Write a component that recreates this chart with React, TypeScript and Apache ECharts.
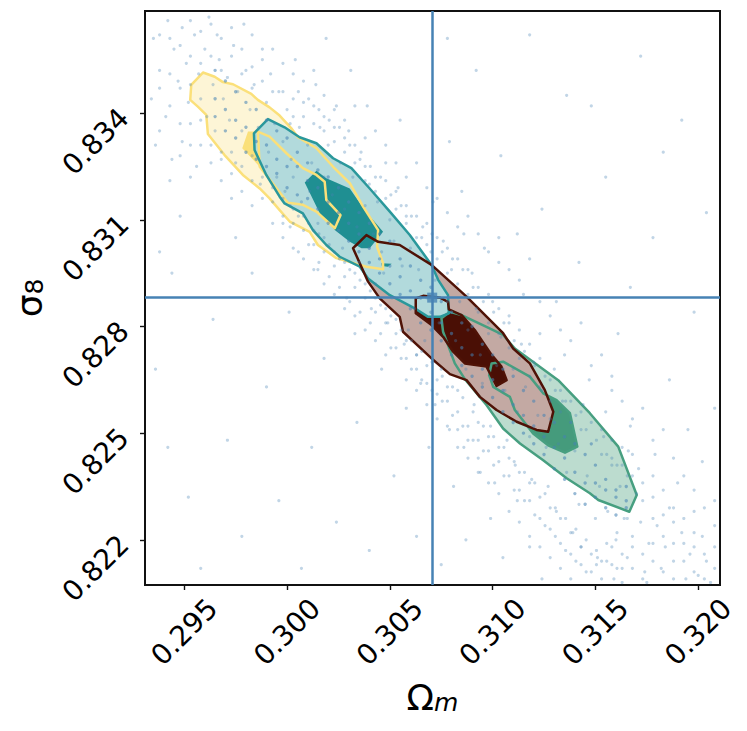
import React, { useEffect, useRef } from "react";
import * as echarts from "echarts";

type P = [number, number];
const omegaTicks = [0.295, 0.3, 0.305, 0.31, 0.315, 0.32];
const sigmaTicks = [0.822, 0.825, 0.828, 0.831, 0.834];
const truth: P = [0.30706, 0.82881];

const yellowOuter: P[] = [[0.29591,0.83514],[0.29648,0.83502],[0.29688,0.83487],[0.29737,0.83481],[0.29826,0.83454],[0.29858,0.83437],[0.29915,0.83416],[0.29964,0.83393],[0.30021,0.83357],[0.30053,0.83332],[0.30143,0.83301],[0.30224,0.83249],[0.30305,0.83203],[0.3037,0.83137],[0.30443,0.83071],[0.30438,0.83024],[0.30467,0.82978],[0.30467,0.82961],[0.30386,0.82968],[0.3024,0.82992],[0.3015,0.83029],[0.3011,0.83066],[0.30013,0.83095],[0.29964,0.83127],[0.29915,0.8316],[0.29867,0.83188],[0.29785,0.83226],[0.29696,0.83282],[0.29615,0.83341],[0.29607,0.83395],[0.29566,0.83418],[0.29529,0.83437],[0.29534,0.83479]];
const yellowInner: P[] = [[0.29858,0.83348],[0.29915,0.83334],[0.29997,0.83287],[0.30077,0.83245],[0.30143,0.83226],[0.30183,0.83207],[0.30191,0.83156],[0.3026,0.83113],[0.30232,0.83076],[0.30143,0.83123],[0.30077,0.83142],[0.30004,0.83148],[0.29867,0.83249],[0.29782,0.83301],[0.2981,0.83348]];
const tealOuter: P[] = [[0.29907,0.83383],[0.29988,0.8336],[0.30061,0.83332],[0.30143,0.83315],[0.30224,0.83273],[0.30313,0.83245],[0.30402,0.83188],[0.305,0.83123],[0.30597,0.83057],[0.30703,0.82973],[0.30735,0.82931],[0.30783,0.82888],[0.30787,0.82837],[0.30743,0.82827],[0.30686,0.82827],[0.30621,0.82851],[0.305,0.82888],[0.30394,0.82935],[0.30354,0.82968],[0.30256,0.82996],[0.30191,0.83029],[0.30126,0.83071],[0.30077,0.83118],[0.29988,0.83146],[0.29964,0.83165],[0.29899,0.83226],[0.29842,0.83296],[0.29839,0.83343]];
const tealInner: P[] = [[0.30143,0.83238],[0.30191,0.83217],[0.30305,0.83188],[0.30378,0.83127],[0.30467,0.83066],[0.30402,0.8302],[0.30362,0.8302],[0.30305,0.83038],[0.30232,0.83071],[0.30159,0.83118],[0.30086,0.83205]];
const tealSpeck: P[] = [[0.30459,0.82978],[0.30509,0.82976],[0.3049,0.82968],[0.30461,0.8297]];
const maroonOuter: P[] = [[0.30337,0.83029],[0.30386,0.83057],[0.30443,0.83038],[0.30548,0.83029],[0.30703,0.82973],[0.30873,0.82884],[0.31051,0.82781],[0.311,0.82738],[0.31181,0.82696],[0.31254,0.82621],[0.31295,0.8256],[0.3127,0.82504],[0.31214,0.82509],[0.31117,0.82532],[0.31019,0.82565],[0.30938,0.82602],[0.30873,0.82649],[0.30792,0.82666],[0.30703,0.8271],[0.30564,0.82785],[0.30548,0.82827],[0.30451,0.82879],[0.30394,0.82926],[0.30321,0.8302]];
const maroonInner: P[] = [[0.30626,0.82837],[0.30626,0.82879],[0.30662,0.82886],[0.30743,0.82881],[0.30783,0.82869],[0.30787,0.82848],[0.30849,0.82832],[0.30913,0.8279],[0.30962,0.82748],[0.30995,0.8272],[0.31043,0.82687],[0.31068,0.82649],[0.31019,0.82633],[0.3097,0.82687],[0.30865,0.82696],[0.30808,0.82729],[0.30759,0.82771],[0.30703,0.82804]];
const greenOuter: P[] = [[0.30792,0.82841],[0.30849,0.82832],[0.3097,0.82799],[0.31051,0.82776],[0.31108,0.82738],[0.31319,0.82649],[0.31473,0.82556],[0.31611,0.82462],[0.31701,0.82326],[0.31665,0.82279],[0.31514,0.82312],[0.31473,0.82331],[0.3136,0.82373],[0.31246,0.82424],[0.31133,0.82471],[0.31051,0.82513],[0.3097,0.82579],[0.30865,0.82652],[0.30816,0.82696],[0.30759,0.82785],[0.30751,0.82823]];
const greenInner: P[] = [[0.30995,0.82696],[0.31051,0.82701],[0.31181,0.82659],[0.31246,0.82612],[0.31311,0.82593],[0.31376,0.82556],[0.31412,0.82462],[0.31352,0.82445],[0.3127,0.82466],[0.31197,0.82499],[0.31108,0.82565],[0.31084,0.82602],[0.31003,0.8263],[0.30983,0.82663]];

const cloud: P[] = [
[0.2935,0.8361],[0.2938,0.8352],[0.2942,0.8366],[0.2934,0.8344],[0.2945,0.8358],[0.2947,0.8349],[0.2941,0.8339],[0.2936,0.8331],[0.2949,0.8364],[0.2951,0.8354],[0.2944,0.8327],[0.2952,0.8343],[0.2955,0.8362],[0.2957,0.8351],[0.2953,0.8337],[0.2949,0.8332],[0.2958,0.8344],[0.296,0.8358],[0.2962,0.8367],[0.2964,0.8348],[0.2961,0.8339],[0.2956,0.8325],[0.2965,0.8335],[0.2967,0.8355],[0.2969,0.8344],[0.2966,0.8362],[0.2971,0.835],[0.2972,0.8338],[0.2968,0.8329],[0.2974,0.8359],[0.2976,0.8346],[0.2978,0.8335],[0.2975,0.8326],[0.298,0.8352],[0.2982,0.8341],[0.2979,0.8365],[0.2984,0.8348],[0.2986,0.8336],[0.2983,0.8328],[0.2988,0.8358],[0.299,0.8343],[0.2987,0.832],
[0.2992,0.8351],[0.2994,0.8337],[0.2991,0.8329],[0.2996,0.8346],[0.2998,0.8332],[0.2995,0.8322],[0.3,0.8341],[0.3002,0.8327],[0.2999,0.8318],[0.3004,0.8355],[0.3006,0.8336],[0.3003,0.8322],[0.3008,0.8343],[0.301,0.8331],[0.3007,0.8315],[0.3012,0.8326],[0.3014,0.8348],[0.3011,0.8318],[0.3016,0.8336],[0.3018,0.8322],[0.3015,0.8309],[0.302,0.8331],[0.3022,0.8317],[0.3019,0.8361],[0.3024,0.8342],[0.3026,0.8326],[0.3023,0.8309],[0.3028,0.8313],[0.303,0.8335],[0.3027,0.8302],[0.3032,0.8322],[0.3034,0.8308],[0.3031,0.8352],[0.3036,0.8329],[0.3038,0.8314],[0.3035,0.8298],[0.304,0.832],[0.3042,0.8306],[0.3039,0.8342],[0.3044,0.8315],[0.3046,0.8301],[0.3043,0.8292],[0.3048,0.8326],[0.305,0.831],[0.3047,0.8295],[0.3052,0.8304],[0.3054,0.8319],[0.3051,0.8288],[0.3056,0.8297],[0.3058,0.8311],[0.3055,0.8338],[0.306,0.8302],[0.3062,0.8285],[0.3059,0.8279],
[0.3064,0.8296],[0.3066,0.8308],[0.3063,0.8272],[0.3068,0.8288],[0.307,0.8301],[0.3067,0.8276],[0.3072,0.8293],[0.3074,0.8281],[0.3071,0.8315],[0.3076,0.8304],[0.3078,0.8287],[0.3075,0.8268],[0.308,0.8296],[0.3082,0.8276],[0.3079,0.8332],[0.3084,0.8287],[0.3086,0.8306],[0.3083,0.8262],[0.3088,0.8279],[0.309,0.8295],[0.3087,0.8268],[0.3092,0.8285],[0.3094,0.8272],[0.3091,0.8258],[0.3096,0.8302],[0.3098,0.8278],[0.3095,0.8264],[0.31,0.8287],[0.3102,0.8269],[0.3099,0.8252],[0.3104,0.8277],[0.3106,0.8262],[0.3103,0.8298],[0.3108,0.8283],[0.311,0.8268],[0.3107,0.8248],[0.3112,0.8256],[0.3114,0.8275],[0.3111,0.8241],[0.3116,0.8263],[0.3118,0.8249],[0.3115,0.8289],[0.312,0.827],[0.3122,0.8255],[0.3119,0.8237],[0.3124,0.8262],[0.3126,0.8246],[0.3123,0.8278],
[0.3128,0.8254],[0.313,0.8268],[0.3127,0.8235],[0.3132,0.8247],[0.3134,0.8259],[0.3131,0.8228],[0.3136,0.8239],[0.3138,0.8253],[0.3135,0.8272],[0.314,0.8245],[0.3142,0.823],[0.3139,0.8222],[0.3144,0.8258],[0.3146,0.8238],[0.3143,0.8218],[0.3148,0.8247],[0.315,0.8226],[0.3147,0.8265],[0.3152,0.8235],[0.3154,0.8249],[0.3151,0.8215],[0.3156,0.8228],[0.3158,0.8241],[0.3155,0.8256],[0.316,0.822],[0.3162,0.8235],[0.3159,0.8209],[0.3164,0.8226],[0.3166,0.8245],[0.3163,0.8212],[0.3168,0.8218],[0.317,0.8233],[0.3167,0.8252],[0.3172,0.8225],[0.3174,0.8211],[0.3171,0.824],[0.3176,0.8219],[0.3178,0.8232],[0.3175,0.8208],[0.318,0.8224],[0.3182,0.8212],[0.3179,0.8244],[0.3184,0.8218],[0.3186,0.8229],[0.3183,0.8207],[0.3188,0.8214],[0.319,0.8236],[0.3192,0.8222],[0.3194,0.8209],[0.3196,0.8216],[0.3198,0.8228],[0.32,0.821],[0.3202,0.8221],[0.3204,0.8214],[0.3206,0.8208],[0.3208,0.8218],
[0.3092,0.8352],[0.3104,0.8328],[0.3118,0.8362],[0.3124,0.8313],[0.3136,0.8345],[0.3142,0.8298],[0.3155,0.8322],[0.3161,0.8278],[0.3172,0.8356],[0.3178,0.8305],[0.3186,0.8265],[0.3192,0.8338],[0.3198,0.8284],[0.3204,0.8312],[0.3208,0.8257],[0.3085,0.8318],[0.3078,0.8361],[0.3112,0.8306],[0.3148,0.8342],[0.3167,0.8291],[0.3183,0.8329],[0.3131,0.8287],[0.3158,0.8266],[0.3195,0.8251],[0.3202,0.8242],
[0.2936,0.8268],[0.2944,0.8295],[0.2952,0.8232],[0.2958,0.8212],[0.2964,0.8282],[0.2971,0.8248],[0.2978,0.8221],[0.2983,0.8295],[0.299,0.8263],[0.2996,0.8231],[0.3001,0.8284],[0.3007,0.8212],[0.3012,0.8246],[0.3018,0.8271],[0.3024,0.8225],[0.3029,0.8288],[0.3034,0.8253],[0.304,0.8217],[0.3046,0.8268],[0.3052,0.8238],[0.3058,0.8257],[0.3063,0.8221],[0.3069,0.8246],[0.3075,0.8213],[0.3081,0.8235],[0.3087,0.822],[0.3093,0.8243],[0.3099,0.8226],[0.3105,0.8215],[0.3112,0.8231],[0.3118,0.8218],[0.3124,0.8209],[0.2942,0.8246],[0.2975,0.8305],[0.2948,0.8311],[0.2938,0.8301],[0.3015,0.8296],[0.2998,0.8309],[0.3041,0.8285],[0.3033,0.8278],[0.3049,0.8281],[0.3057,0.8275],[0.3065,0.8264],[0.3072,0.8258],[0.3079,0.8251],[0.3086,0.8246],[0.3094,0.8239],[0.3101,0.8236]
];

const cloudColumns: [number, number[]][] = [
[0.2938,[0.8362,0.8347,0.8335]],[0.2943,[0.8361,0.8351,0.8342,0.8321]],[0.2948,[0.8359,0.8347,0.8337,0.8328]],[0.2953,[0.8366,0.8356,0.8348,0.8331,0.8322]],[0.2958,[0.8363,0.8354,0.8338,0.8331]],[0.2963,[0.8365,0.8356,0.8331,0.8326]],[0.2968,[0.8361,0.8352,0.8327,0.8321]],[0.2973,[0.8364,0.8356,0.8323,0.8329,0.8316]],[0.2978,[0.8358,0.8351,0.8325,0.8318]],[0.2983,[0.8362,0.8353,0.8347,0.8321,0.8314]],[0.2988,[0.8355,0.8349,0.8322,0.8316]],[0.2993,[0.8358,0.8346,0.8315,0.8319,0.8309]],[0.2998,[0.8354,0.8346,0.8311,0.8316,0.8305]],[0.3003,[0.8351,0.8344,0.8339,0.8309,0.8313,0.8302]],[0.3008,[0.8349,0.8339,0.8307,0.8311,0.8299]],[0.3013,[0.8352,0.8342,0.8337,0.8303,0.8307,0.8296]],[0.3018,[0.8345,0.8335,0.8339,0.8301,0.8305,0.8292]],[0.3023,[0.8341,0.8332,0.8336,0.8297,0.8301,0.8289]],[0.3028,[0.8338,0.8329,0.8333,0.8294,0.8298,0.8285]],[0.3033,[0.8342,0.8326,0.8331,0.8291,0.8295,0.8283]],[0.3038,[0.8333,0.8325,0.8321,0.8288,0.8292,0.8279]],[0.3043,[0.8335,0.8322,0.8318,0.8284,0.8288,0.8276]],[0.3048,[0.8331,0.8316,0.8321,0.8281,0.8285,0.8272]],[0.3053,[0.8326,0.8313,0.8318,0.8278,0.8274,0.8282]],[0.3058,[0.8322,0.8309,0.8314,0.8276,0.8271,0.8265]],[0.3063,[0.8326,0.8305,0.8311,0.8272,0.8268,0.8262]],[0.3068,[0.8319,0.8303,0.8309,0.8269,0.8264,0.8258]],[0.3073,[0.8316,0.8299,0.8305,0.8265,0.8261,0.8254]],[0.3078,[0.8312,0.8295,0.8302,0.8259,0.8263,0.8252]],[0.3083,[0.8308,0.8292,0.8299,0.8256,0.8251,0.8246]],[0.3088,[0.8311,0.8289,0.8296,0.8252,0.8248,0.8243]],[0.3093,[0.8306,0.8284,0.8291,0.8248,0.8253,0.8239]],[0.3098,[0.8301,0.8281,0.8289,0.8245,0.8249,0.8236]],[0.3103,[0.8305,0.8278,0.8285,0.8242,0.8246,0.8233]],[0.3108,[0.8296,0.8274,0.8281,0.8238,0.8243,0.8228]],[0.3113,[0.8293,0.8271,0.8279,0.8234,0.8239,0.8225]],[0.3118,[0.8299,0.8266,0.8275,0.8231,0.8236,0.8221]],[0.3123,[0.8287,0.8263,0.8271,0.8226,0.8232,0.8218]],[0.3128,[0.8283,0.8265,0.8259,0.8223,0.8229,0.8215]],[0.3133,[0.8279,0.8256,0.8262,0.8219,0.8226,0.8212]],[0.3138,[0.8276,0.8253,0.8259,0.8216,0.8222,0.8209]],[0.3143,[0.8281,0.8251,0.8256,0.8213,0.8218]],[0.3148,[0.8269,0.8247,0.8253,0.8211,0.8216]],[0.3153,[0.8272,0.8244,0.8251,0.8209,0.8214]],[0.3158,[0.8262,0.8243,0.8248,0.8213,0.8218]],[0.3163,[0.8259,0.8241,0.8246,0.8216,0.8208]],[0.3168,[0.8254,0.8238,0.8244,0.8221,0.8212]],[0.3173,[0.8257,0.8231,0.8236,0.8216,0.8209]],[0.3178,[0.8248,0.8226,0.8238,0.8214,0.8219]],[0.3183,[0.8251,0.8221,0.8234,0.8211,0.8227]],[0.3188,[0.8243,0.8219,0.8229,0.8225,0.8209]],[0.3193,[0.8238,0.8214,0.8226,0.8219]],[0.3198,[0.8234,0.8218,0.8211,0.8222]],[0.3203,[0.8229,0.8216,0.8209]],[0.3208,[0.8224,0.8212,0.8231]],
[0.30015,[0.8337,0.8314,0.8308]],[0.30055,[0.8346,0.8311,0.8301]],[0.30105,[0.8344,0.8309,0.8303]],[0.30155,[0.8341,0.8306,0.8298]],[0.30205,[0.8338,0.8303,0.8294]],[0.30255,[0.8336,0.8299,0.8291]],[0.30305,[0.8331,0.8296,0.8287]],[0.30355,[0.8327,0.8293,0.8284]],[0.30405,[0.8325,0.829,0.8281]],[0.30455,[0.8322,0.8286,0.8278]],[0.30505,[0.8317,0.8283,0.8274]],[0.30555,[0.8314,0.8279,0.8271]],[0.30605,[0.8311,0.8276,0.8268]],[0.30655,[0.8305,0.8273,0.8265]],[0.30705,[0.8306,0.827,0.8262]],[0.30755,[0.8301,0.8266,0.8259]],[0.30805,[0.8299,0.8263,0.8255]],[0.30855,[0.8296,0.826,0.8252]],[0.30905,[0.8291,0.8256,0.8248]],[0.30955,[0.8287,0.8252,0.8245]],[0.31005,[0.8284,0.8249,0.8241]],[0.31055,[0.8281,0.8246,0.8238]],[0.31105,[0.8276,0.8242,0.8234]],[0.31155,[0.8273,0.8239,0.8231]],[0.31205,[0.8269,0.8236,0.8227]],[0.31255,[0.8266,0.8233,0.8224]],[0.31305,[0.8262,0.8229,0.8221]],[0.31355,[0.8259,0.8226,0.8217]],[0.31405,[0.8255,0.8223,0.8214]],[0.31455,[0.8251,0.822,0.8211]],[0.31505,[0.8248,0.8217,0.8213]],[0.31555,[0.8244,0.8214,0.8219]],[0.31605,[0.8241,0.8212,0.8222]],[0.31655,[0.8238,0.8215,0.8226]]
];
const coreColumns: [number, number[]][] = [
[0.2965,[0.8352,0.8344,0.8339]],[0.297,[0.8349,0.8341,0.8335]],[0.2975,[0.8346,0.8338,0.8333]],[0.298,[0.8343,0.8336,0.8329]],[0.2985,[0.8341,0.8332,0.8327]],[0.299,[0.8338,0.8331,0.8325]],[0.2995,[0.8335,0.8327,0.8323]],[0.3,[0.8333,0.8325,0.8319]],[0.3005,[0.8329,0.8325,0.8317]],[0.301,[0.8326,0.8321,0.8316]],[0.3015,[0.8324,0.8319,0.8313]],[0.302,[0.8322,0.8315,0.8309]],[0.3025,[0.8319,0.8312,0.8307]],[0.303,[0.8315,0.8309,0.8304]],[0.3035,[0.8312,0.8306,0.8301]],[0.304,[0.8309,0.8302,0.8298]],[0.3045,[0.8306,0.8299,0.8295]],[0.305,[0.8304,0.8297,0.8292]],[0.3055,[0.8299,0.8294,0.8289]],[0.306,[0.8297,0.829,0.8285]],[0.3065,[0.8293,0.8288,0.8281]],[0.307,[0.8291,0.8284,0.8279]],[0.3075,[0.8287,0.8281,0.8276]],[0.308,[0.8284,0.8278,0.8272]],[0.3085,[0.8281,0.8274,0.8269]],[0.309,[0.828,0.8272,0.8266]],[0.3095,[0.8275,0.8268,0.8263]],[0.31,[0.8272,0.8265,0.826]],[0.3105,[0.8268,0.8262,0.8256]],[0.311,[0.8266,0.8258,0.8253]],[0.3115,[0.8262,0.8255,0.825]],[0.312,[0.8259,0.8252,0.8247]],[0.3125,[0.8255,0.8249,0.8244]],[0.313,[0.8253,0.8246,0.824]],[0.3135,[0.8249,0.8243,0.8237]],[0.314,[0.8247,0.8239,0.8233]],[0.3145,[0.8244,0.8236,0.823]],[0.315,[0.8241,0.8232,0.8236]],[0.3155,[0.8237,0.8229,0.8234]],[0.316,[0.8234,0.8227,0.8232]],[0.3165,[0.8231,0.8235,0.8229]]
];
const cloudAll: P[] = [...cloud, ...cloudColumns.flatMap(([x, ys]) => ys.map((y): P => [x, y]))];
const coreAll: P[] = coreColumns.flatMap(([x, ys]) => ys.map((y): P => [x, y]));

const poly = (pts: P[], style: any, z: number, name: string) => ({
  type: "custom", name, z, silent: true, data: pts, encode: { x: 0, y: 1 }, animation: false,
  renderItem: (params: any, api: any) => params.dataIndex !== 0 ? null : ({
    type: "polygon",
    shape: { points: pts.map((p) => api.coord(p)) },
    style,
  }),
});
const fill = (pts: P[], color: string, name: string) => poly(pts, { fill: color, stroke: "none" }, 2, name);
const edge = (pts: P[], color: string, name: string) => poly(pts, { fill: "none", stroke: color, lineWidth: 2.5, lineJoin: "round" }, 4, name);

const YEL = "#fbe07a", TEAL = "#2a989b", MAR = "#4f1206", GRN = "#479f80";

export default function App() {
  const ref = useRef<HTMLDivElement>(null);
  useEffect(() => {
    const chart = echarts.init(ref.current!, undefined, { renderer: "svg" });
    const tickFont = { fontFamily: "DejaVu Sans", fontSize: 28, color: "#000" };
    chart.setOption({
      animation: false,
      backgroundColor: "#fff",
      grid: { show: true, left: 145, right: 27, top: 11, bottom: 146, outerBoundsMode: "none", containLabel: false, borderColor: "#111", borderWidth: 2, backgroundColor: "#fff" },
      xAxis: {
        type: "value", min: 0.29309, max: 0.32106, splitLine: { show: false },
        axisLine: { show: true, onZero: false, lineStyle: { color: "#111", width: 2 } },
        axisTick: { show: true, length: 5, customValues: omegaTicks, lineStyle: { color: "#111", width: 1.4 } },
        axisLabel: { ...tickFont, customValues: omegaTicks, rotate: 45, align: "center", verticalAlign: "middle", margin: 47, formatter: (v: number) => v.toFixed(3) },
        name: "{a|Ω}{b|m}", nameLocation: "middle", nameGap: 94,
        nameTextStyle: { rich: {
          a: { fontFamily: "DejaVu Sans", fontSize: 36, color: "#000" },
          b: { fontFamily: "DejaVu Sans", fontSize: 25, fontStyle: "italic", color: "#000", verticalAlign: "bottom", padding: [10, 0, 0, 0] },
        } },
      },
      yAxis: {
        type: "value", min: 0.82073, max: 0.83687, splitLine: { show: false },
        axisLine: { show: true, onZero: false, lineStyle: { color: "#111", width: 2 } },
        axisTick: { show: true, length: 5, customValues: sigmaTicks, lineStyle: { color: "#111", width: 1.4 } },
        axisLabel: { ...tickFont, customValues: sigmaTicks, rotate: 45, align: "right", verticalAlign: "middle", margin: 21, formatter: (v: number) => v.toFixed(3) },
        name: "{a|σ}{b|8}", nameLocation: "middle", nameGap: 98, nameRotate: 90,
        nameTextStyle: { rich: {
          a: { fontFamily: "DejaVu Sans", fontSize: 36, color: "#000" },
          b: { fontFamily: "DejaVu Sans", fontSize: 25, color: "#000", verticalAlign: "bottom", padding: [10, 0, 0, 0] },
        } },
      },
      series: [
        fill(yellowOuter, "#fdf5d6", "yellow outer"),
        fill(yellowInner, "#fae07a", "yellow inner"),
        fill(greenOuter, "#bcdccf", "green outer"),
        fill(greenInner, "#459b7c", "green inner"),
        fill(maroonOuter, "#c3a9a3", "maroon outer"),
        fill(maroonInner, "#4a0f05", "maroon inner"),
        fill(tealOuter, "#b2dadc", "teal outer"),
        fill(tealInner, "#1f8f92", "teal inner"),
        fill(tealSpeck, "#1f8f92", "teal speck"),
        edge(yellowOuter, YEL, "yellow outer line"),
        edge(yellowInner.slice(0, 13), YEL, "yellow inner line"),
        edge(greenOuter, GRN, "green outer line"),
        edge(greenInner, GRN, "green inner line"),
        edge(tealOuter, TEAL, "teal outer line"),
        edge(maroonOuter, MAR, "maroon outer line"),
        edge(maroonInner, MAR, "maroon inner line"),
        { type: "scatter", name: "samples", z: 8, silent: true, data: cloudAll, symbolSize: 3.2, itemStyle: { color: "rgba(70,130,180,0.42)" } },
        { type: "scatter", name: "samples core", z: 8, silent: true, data: coreAll, symbolSize: 3.4, itemStyle: { color: "rgba(70,130,180,0.7)" } },
        {
          type: "scatter", name: "truth", z: 9, silent: true, data: [truth], symbol: "rect", symbolSize: 10, itemStyle: { color: "#4682b4" },
          markLine: { silent: true, symbol: "none", precision: 5, label: { show: false }, lineStyle: { color: "#4682b4", width: 2.5, type: "solid" }, data: [{ xAxis: truth[0] }, { yAxis: truth[1] }] },
        },
      ],
    });
    return () => chart.dispose();
  }, []);
  return <div ref={ref} style={{ position: "absolute", left: 0, top: 0, width: 747, height: 731 }} />;
}
